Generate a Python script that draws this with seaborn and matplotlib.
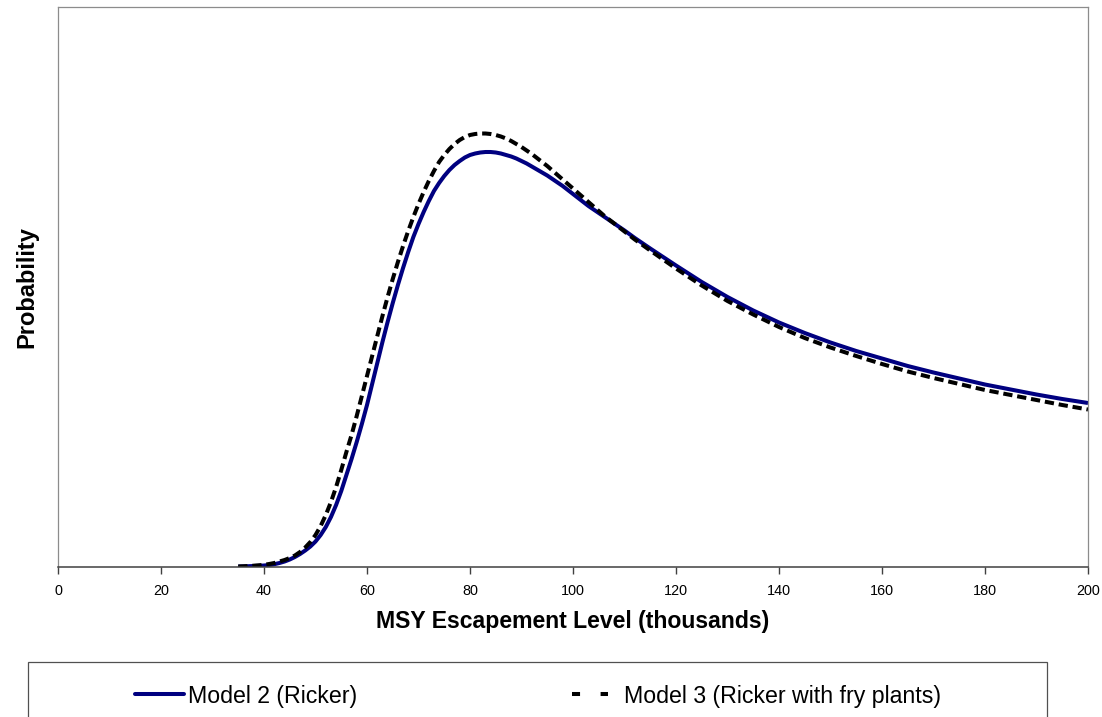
import matplotlib
matplotlib.use("Agg")
import matplotlib.pyplot as plt
import seaborn as sns
import pandas as pd
from matplotlib.lines import Line2D
from matplotlib.patches import Rectangle

# ---- data (relative probability, arbitrary units) ----
escapement = list(range(35, 111)) + [112, 115, 120, 125, 130, 135, 140, 145, 150,
                                     155, 160, 165, 170, 175, 180, 185, 190, 195, 200]
model2_ricker = [
    0.5, 0.6, 0.8, 1.0, 1.2, 1.5, 2.0, 2.8, 4.0, 5.5,              # 35-44
    7.5, 10, 13, 16.5, 20.5, 25.5, 32, 40, 50, 62,                 # 45-54
    76, 92, 108, 125, 143, 162, 183, 204, 225, 245,                # 55-64
    264, 282, 299, 315, 330, 343, 355, 366, 376, 384,              # 65-74
    391, 397, 402, 406, 409.5, 412, 413.5, 414.5, 415, 415,        # 75-84
    414.5, 413.5, 412, 410.5, 408.5, 406, 403.5, 400.5, 397.5, 394.5,  # 85-94
    391.5, 388, 384.5, 381, 377, 373, 369, 365, 361, 357.5,        # 95-104
    354, 350.5, 347, 343.5, 340, 336.5,                            # 105-110
    329, 318.5, 301.5, 285, 270, 256.5, 244.5, 234, 224.5,         # 112-150
    216, 208.5, 201, 194.5, 188.5, 182.5, 177.5, 172.5, 168, 164]  # 155-200
model3_fry = [
    0.5, 0.7, 1.0, 1.3, 1.7, 2.2, 3.0, 4.0, 5.5, 7.0,              # 35-44
    9.0, 11.5, 15, 19.5, 25, 32, 41, 52, 65, 80,                   # 45-54
    97, 115, 132, 151, 171, 191, 211, 231, 251, 270,               # 55-64
    288, 305, 321, 336, 350, 363, 375, 386, 396, 405,              # 65-74
    412, 418, 423, 427, 430, 432, 433, 433.5, 433.5, 433,          # 75-84
    432, 430.5, 428.5, 426, 423, 420, 416.5, 413, 409, 405,        # 85-94
    401, 396.5, 392, 387.5, 383, 378.5, 374, 369.5, 365, 360.5,    # 95-104
    356, 351.5, 347.5, 343.5, 339.5, 335.5,                        # 105-110
    327.5, 316.5, 298.5, 281.5, 266, 252.5, 240, 229, 219.5,       # 112-150
    211, 203, 195.5, 189, 183, 177, 172, 167, 162, 157.5]          # 155-200
x_ticks = [0, 20, 40, 60, 80, 100, 120, 140, 160, 180, 200]
series_names = ["Model 2 (Ricker)", "Model 3 (Ricker with fry plants)"]

df = pd.DataFrame({"x": escapement, "m2": model2_ricker, "m3": model3_fry})

sns.set_style("white")
plt.rcParams["font.family"] = ["Liberation Sans", "DejaVu Sans"]
plt.rcParams["text.color"] = "black"
plt.rcParams["axes.labelcolor"] = "black"
plt.rcParams["xtick.color"] = "black"

W, H = 1102, 717
fig = plt.figure(figsize=(W / 100, H / 100), dpi=100)
ax = fig.add_axes([58 / W, 1 - 567 / H, (1088 - 58) / W, (567 - 7) / H])

NAVY = "#000080"
LW = 2.9
sns.lineplot(data=df, x="x", y="m2", ax=ax, color=NAVY, lw=LW, legend=False,
             solid_capstyle="butt")
sns.lineplot(data=df, x="x", y="m3", ax=ax, color="black", lw=LW, legend=False,
             linestyle=(0, (2.3, 1.2)), dash_capstyle="butt")

ax.set_xlim(0, 200)
ax.set_ylim(0, 560)
ax.set_xticks(x_ticks)
ax.set_xticklabels([str(t) for t in x_ticks], fontsize=10.4, color="black")
ax.set_yticks([])
ax.tick_params(axis="x", direction="out", length=5, width=1, color="#404040",
               pad=7.5, bottom=True, labelcolor="black")

for side in ["left", "top", "right"]:
    ax.spines[side].set_color("#8c8c8c")
    ax.spines[side].set_linewidth(0.9)
ax.spines["bottom"].set_color("#404040")
ax.spines["bottom"].set_linewidth(1.1)

ax.set_xlabel("MSY Escapement Level (thousands)", fontsize=16.6,
              fontweight="bold", color="black")
ax.set_ylabel("Probability", fontsize=17, fontweight="bold", color="black")
ax.xaxis.set_label_coords(0.5, (567 - 610) / 560)
ax.yaxis.set_label_coords((38 - 58) / 1030, 0.5)

# legend box (cut off at the bottom of the image, as in the reference)
fig.add_artist(Rectangle((28 / W, -0.1), (1047 - 28) / W, 0.1 + (1 - 662 / H),
                         transform=fig.transFigure, fill=False,
                         edgecolor="#505050", lw=0.9, clip_on=False))

fs_leg = 16.7
px = fs_leg * 100 / 72
h1 = Line2D([], [], color=NAVY, lw=LW, solid_capstyle="round")
h2 = Line2D([], [], color="black", lw=LW, linestyle=(0, (2.0, 5.1)),
            dash_capstyle="butt")
leg1 = fig.legend([h1], [series_names[0]], loc="center left",
                  bbox_to_anchor=(135 / W, 1 - 696 / H), frameon=False,
                  fontsize=fs_leg, handlelength=49 / px, handletextpad=4 / px,
                  borderpad=0, borderaxespad=0, labelcolor="black")
leg2 = fig.legend([h2], [series_names[1]], loc="center left",
                  bbox_to_anchor=(572 / W, 1 - 696 / H), frameon=False,
                  fontsize=fs_leg, handlelength=36 / px, handletextpad=16 / px,
                  borderpad=0, borderaxespad=0, labelcolor="black")

fig.savefig("out.png", dpi=100)
